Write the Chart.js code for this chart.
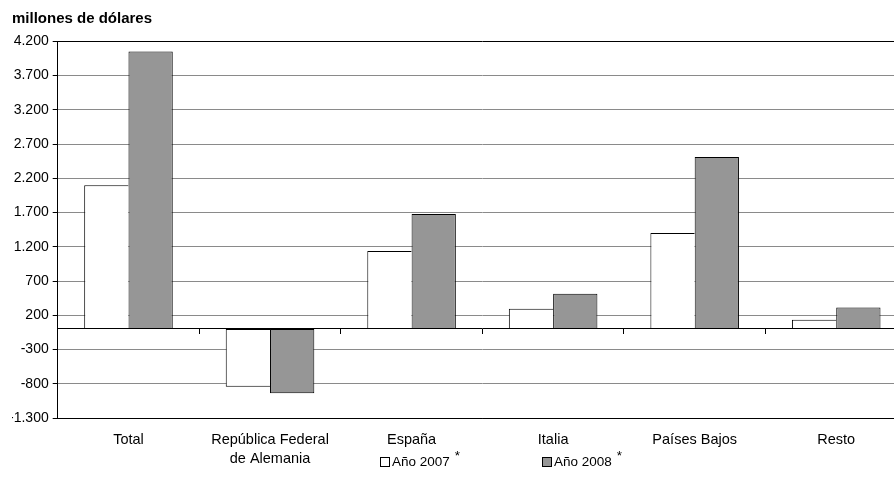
<!DOCTYPE html>
<html>
<head>
<meta charset="utf-8">
<script src="https://cdn.jsdelivr.net/npm/chart.js@4/dist/chart.umd.min.js"></script>
<style>
  html, body { margin: 0; padding: 0; overflow: hidden; background: #ffffff; }
  #wrap { position: relative; width: 907px; height: 495px; }
</style>
</head>
<body>
<div id="wrap"><canvas id="c"></canvas></div>
<script>
// ---- data ----
const categories = ['Total', ['República Federal', 'de Alemania'], 'España', 'Italia', 'Países Bajos', 'Resto'];
const seriesNames = ['Año 2007', 'Año 2008'];
const values2007 = [2100, -845, 1140, 295, 1400, 135];
const values2008 = [4050, -940, 1680, 515, 2510, 315];
const yTicks = [-1300, -800, -300, 200, 700, 1200, 1700, 2200, 2700, 3200, 3700, 4200];
const unitTitle = 'millones de dólares';
const footnoteMark = '*';

// ---- styling ----
const FONT = "'Liberation Sans', Arial, sans-serif";
const yMin = yTicks[0], yMax = yTicks[yTicks.length - 1];
const legendBoxX = [380, 542];
const legendRowY = 462;

function fmt(v) {
  const s = Math.abs(v).toString().replace(/\B(?=(\d{3})+(?!\d))/g, '.');
  return (v < 0 ? '-' : '') + s;
}

const footLegend = {
  id: 'footLegend',
  afterDraw(chart) {
    const ctx = chart.ctx;
    ctx.save();
    ctx.font = '13.5px ' + FONT;
    ctx.textBaseline = 'middle';
    ctx.textAlign = 'left';
    chart.data.datasets.forEach((ds, i) => {
      const x = legendBoxX[i], y = legendRowY;
      ctx.fillStyle = ds.backgroundColor;
      ctx.fillRect(x, y - 5, 10, 10);
      ctx.strokeStyle = '#000';
      ctx.lineWidth = 1;
      ctx.strokeRect(x + 0.5, y - 4.5, 9, 9);
      ctx.fillStyle = '#000';
      ctx.fillText(ds.label, x + 12, y);
      const w = ctx.measureText(ds.label).width;
      ctx.fillText(footnoteMark, x + 12 + w + 5, y - 6);
    });
    ctx.restore();
  }
};

Chart.defaults.font.family = FONT;
Chart.defaults.color = '#000';

new Chart(document.getElementById('c'), {
  type: 'bar',
  data: {
    labels: categories,
    datasets: [
      {
        label: seriesNames[0],
        data: values2007,
        backgroundColor: '#ffffff',
        borderColor: '#000000',
        borderWidth: { top: 1, left: 1, bottom: 1, right: 0 },
        borderSkipped: false,
        categoryPercentage: 0.6257,
        barPercentage: 1.0
      },
      {
        label: seriesNames[1],
        data: values2008,
        backgroundColor: '#969696',
        borderColor: '#000000',
        borderWidth: 1,
        borderSkipped: false,
        categoryPercentage: 0.6257,
        barPercentage: 1.0
      }
    ]
  },
  options: {
    responsive: true,
    maintainAspectRatio: false,
    animation: false,
    events: [],
    layout: { padding: { left: 12, right: 0, top: 0, bottom: 0 } },
    plugins: {
      legend: { display: false },
      tooltip: { enabled: false },
      title: {
        display: true,
        text: unitTitle,
        align: 'start',
        color: '#000',
        font: { family: FONT, size: 15, weight: 'bold', lineHeight: 1.2 },
        padding: { top: 10, bottom: 13.3 }
      }
    },
    scales: {
      x: {
        type: 'category',
        position: 'bottom',
        offset: true,
        grid: { display: false, drawTicks: false, offset: true },
        border: { display: true, color: '#000', width: 1 },
        ticks: {
          color: '#000',
          font: { family: FONT, size: 14.5, lineHeight: 1.31 },
          padding: 12.5,
          maxRotation: 0,
          autoSkip: false
        },
        afterFit(s) { s.height = 77; }
      },
      x2: {
        type: 'category',
        position: { y: 0 },
        offset: true,
        grid: { offset: true, drawOnChartArea: false, drawTicks: true, tickLength: 5, color: '#000', tickColor: '#000' },
        border: { display: true, color: '#000', width: 1 },
        ticks: { display: false }
      },
      y: {
        type: 'linear',
        min: yMin,
        max: yMax,
        afterBuildTicks(s) { s.ticks = yTicks.map(v => ({ value: v })); },
        afterFit(s) { s.width = 45.7; },
        grid: {
          color: c => (c.tick && (c.tick.value === yMax || c.tick.value === yMin)) ? '#000' : '#8a8a8a',
          tickColor: '#000',
          tickLength: 5,
          lineWidth: 1
        },
        border: { display: true, color: '#000', width: 1 },
        ticks: {
          color: '#000',
          font: { family: FONT, size: 14 },
          padding: 4,
          autoSkip: false,
          callback: v => fmt(v)
        }
      }
    }
  },
  plugins: [footLegend]
});
</script>
</body>
</html>
